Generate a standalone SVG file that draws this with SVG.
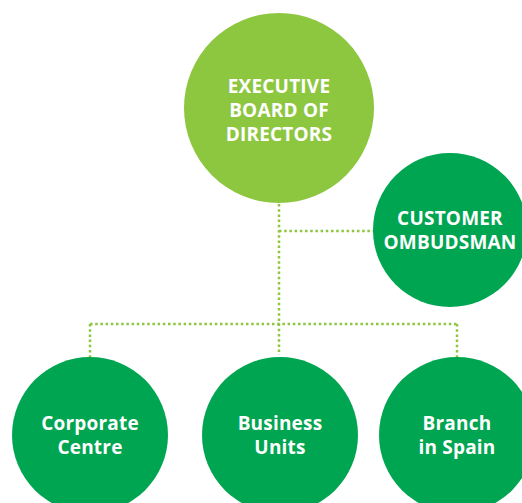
<svg xmlns="http://www.w3.org/2000/svg" width="522" height="503" viewBox="0 0 522 503">
<style>
.light{fill:#8DC63F}
.dark{fill:#00A551}
.t{font-family:"Open Sans","Liberation Sans",sans-serif;font-weight:bold;fill:#fff;text-anchor:middle;font-size:19px;letter-spacing:0.2px}
.dot{fill:none;stroke:#8DC63F;stroke-width:2.5;stroke-dasharray:2.5 2.7}
</style>
<rect width="522" height="503" fill="#fff"/>
<g id="connectors">
<path class="dot" d="M279 204V355"/>
<path class="dot" d="M279 231H374"/>
<path class="dot" d="M90 324H457"/>
<path class="dot" d="M90 324V357"/>
<path class="dot" d="M457 324V357"/>
</g>
<g id="executive">
<circle class="light" cx="279" cy="108" r="95"/>
<text class="t"><tspan x="279" y="93">EXECUTIVE</tspan><tspan x="279" y="117">BOARD OF</tspan><tspan x="279" y="141">DIRECTORS</tspan></text>
</g>
<g id="ombudsman">
<circle class="dark" cx="450" cy="230" r="77"/>
<text class="t"><tspan x="450" y="225">CUSTOMER</tspan><tspan x="450" y="249">OMBUDSMAN</tspan></text>
</g>
<g id="corporate">
<circle class="dark" cx="90" cy="435" r="78"/>
<text class="t"><tspan x="90" y="430">Corporate</tspan><tspan x="90" y="454">Centre</tspan></text>
</g>
<g id="business">
<circle class="dark" cx="280" cy="435" r="78"/>
<text class="t"><tspan x="280" y="430">Business</tspan><tspan x="280" y="454">Units</tspan></text>
</g>
<g id="spain">
<circle class="dark" cx="457" cy="435" r="78"/>
<text class="t"><tspan x="457" y="430">Branch</tspan><tspan x="457" y="454">in Spain</tspan></text>
</g>
</svg>
